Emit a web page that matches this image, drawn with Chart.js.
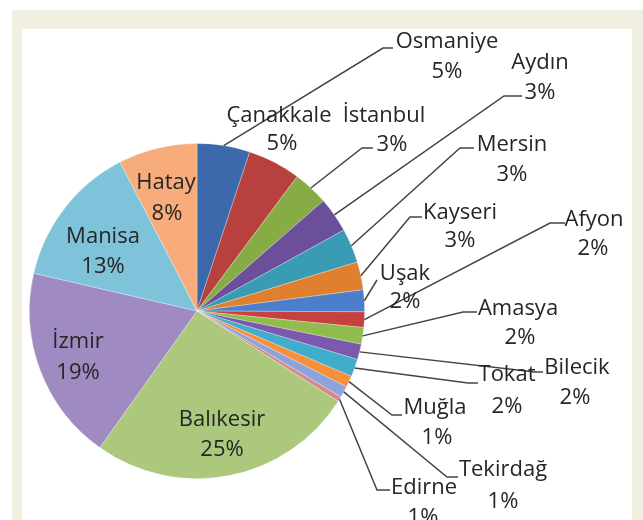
<!DOCTYPE html>
<html>
<head>
<meta charset="utf-8">
<script src="https://cdn.jsdelivr.net/npm/chart.js@4.4.1/dist/chart.umd.min.js"></script>
<style>
  html,body{margin:0;padding:0;background:#ffffff;width:643px;height:520px;overflow:hidden;}
  #frame{position:absolute;left:12px;top:10px;width:631px;height:510px;background:#F1EFDF;}
  #panel{position:absolute;left:22px;top:29px;width:610px;height:491px;background:#ffffff;}
  #c{position:absolute;left:0;top:0;}
</style>
</head>
<body>
<div id="frame"></div>
<div id="panel"></div>
<canvas id="c" width="643" height="520"></canvas>
<script>
// ---- data ----
const categories = ["Osmaniye","Çanakkale","İstanbul","Aydın","Mersin","Kayseri","Uşak","Afyon","Amasya","Bilecik","Tokat","Muğla","Tekirdağ","Edirne","Balıkesir","İzmir","Manisa","Hatay"];
const values     = [5.1, 5.1, 3.4, 3.4, 3.3, 2.7, 2.1, 1.5, 1.6, 1.5, 1.7, 1.1, 1.1, 0.5, 25.8, 18.8, 13.8, 7.6];
const pctLabels  = ["5%","5%","3%","3%","3%","3%","2%","2%","2%","2%","2%","1%","1%","1%","25%","19%","13%","8%"];
const colors     = ["#3C69A9","#B6413D","#87AC45","#6C4F9B","#3A9BB5","#E07F2D","#4C7FCB","#C7413F","#90BB4D","#7C58AE","#3FADCB","#F78F3B","#8DA3DA","#D5898A","#ABC87D","#9F8BC1","#7FC3DA","#F8AC7C"];

// ---- label layout (offsets in px from pie centre: name[x,y], pct[x,y], line elbow+end) ----
const labelLayout = [
  {name:[250,-269], pct:[250,-239], line:[186,-263,196,-263]},
  {name:[82,-195],  pct:[85,-167],  line:null},
  {name:[187,-195], pct:[195,-166], line:[165,-163,176,-163]},
  {name:[343,-248], pct:[343,-218], line:[307,-215,325,-215]},
  {name:[315,-166], pct:[315,-136], line:[263,-163,277,-163]},
  {name:[263,-98],  pct:[263,-70],  line:[213,-94,225,-94]},
  {name:[208,-37],  pct:[208,-9],   line:[180,-31,180,-31]},
  {name:[397,-91],  pct:[396,-62],  line:[353,-88,368,-88]},
  {name:[321,-2],   pct:[323,27],   line:[266,1,280,1]},
  {name:[380,57],   pct:[378,87],   line:[338,61,346,61]},
  {name:[310,64],   pct:[310,96],   line:[271,72,281,72]},
  {name:[238,97],   pct:[240,127],  line:[195,104,205,104]},
  {name:[306,159],  pct:[306,191],  line:[250,166,261,166]},
  {name:[227,177],  pct:[226,207],  line:[180,179,193,179]},
  {name:[25,109],   pct:[25,139],   line:null},
  {name:[-119,31],  pct:[-119,62],  line:null},
  {name:[-94,-74],  pct:[-94,-44],  line:null},
  {name:[-31,-128], pct:[-30,-97],  line:null}
];

const labelPlugin = {
  id: 'pieLabels',
  afterDatasetsDraw(chart) {
    const ctx = chart.ctx;
    const meta = chart.getDatasetMeta(0);
    const a0 = meta.data[0];
    const cx = a0.x, cy = a0.y, R = a0.outerRadius;
    ctx.save();
    ctx.strokeStyle = '#444444';
    ctx.lineWidth = 1.5;
    meta.data.forEach((arc, i) => {
      const L = labelLayout[i];
      if (L.line) {
        const mid = (arc.startAngle + arc.endAngle) / 2;
        const sx = cx + Math.cos(mid) * R, sy = cy + Math.sin(mid) * R;
        ctx.beginPath();
        ctx.moveTo(sx, sy);
        ctx.lineTo(cx + L.line[0], cy + L.line[1]);
        ctx.lineTo(cx + L.line[2], cy + L.line[3]);
        ctx.stroke();
      }
    });
    ctx.font = '500 22px "Open Sans", sans-serif';
    ctx.textAlign = 'center';
    ctx.textBaseline = 'middle';
    meta.data.forEach((arc, i) => {
      const L = labelLayout[i];
      ctx.fillStyle = '#262626';
      ctx.fillText(categories[i], cx + L.name[0], cy + L.name[1]);
      ctx.fillText(pctLabels[i], cx + L.pct[0], cy + L.pct[1]);
    });
    ctx.restore();
  }
};

new Chart(document.getElementById('c'), {
  type: 'pie',
  data: {
    labels: categories,
    datasets: [{
      data: values,
      backgroundColor: colors,
      borderColor: 'rgba(255,255,255,0.35)',
      borderWidth: 0.8
    }]
  },
  options: {
    responsive: false,
    animation: false,
    layout: { padding: { left: 29, right: 278, top: 143, bottom: 41 } },
    plugins: { legend: { display: false }, tooltip: { enabled: false } }
  },
  plugins: [labelPlugin]
});
</script>
</body>
</html>
